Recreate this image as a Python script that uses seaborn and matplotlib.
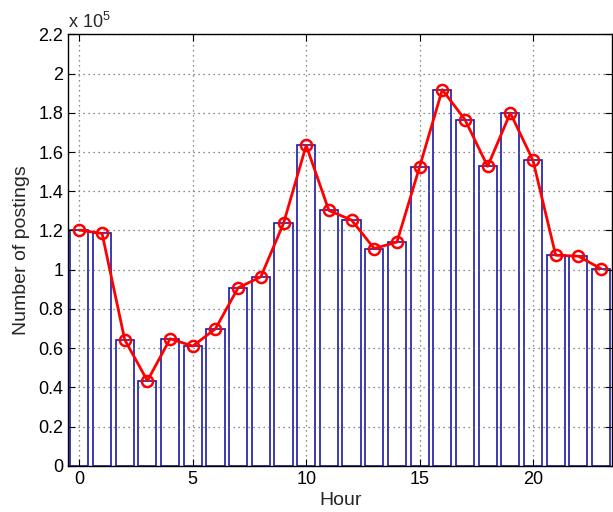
import numpy as np
import matplotlib
matplotlib.use('Agg')
import matplotlib.pyplot as plt
import seaborn as sns

# Hourly posting counts
hours = list(range(24))
postings = [120200, 118500, 64300, 43400, 64800, 61100, 69900, 90800,
            96400, 123600, 163400, 130200, 125300, 110800, 114100, 152400,
            191800, 176500, 152700, 179900, 155700, 107400, 106900, 100500]
y_ticks = [0, 20000, 40000, 60000, 80000, 100000, 120000, 140000,
           160000, 180000, 200000, 220000]
x_ticks = [0, 5, 10, 15, 20]

sns.set_style('white')
plt.rcParams['font.family'] = ['Liberation Sans', 'DejaVu Sans']
plt.rcParams['mathtext.default'] = 'regular'

fig = plt.figure(figsize=(6.13, 5.12), dpi=100)
ax = fig.add_axes([0.111, 0.090, 0.888, 0.843])

# Bars: white with blue outline
sns.barplot(x=hours, y=postings, color='white', edgecolor='#1a1aa6',
            linewidth=1.2, width=0.8, saturation=1, ax=ax, zorder=2)

# Red line with open circle markers
sns.lineplot(x=hours, y=postings, color='red', linewidth=2, marker='o',
             markersize=8, markerfacecolor='none', markeredgecolor='red',
             markeredgewidth=1.8, ax=ax, zorder=3)

ax.set_xlim(-0.5, 23.5)
ax.set_ylim(0, 220000)
ax.set_xticks(x_ticks)
ax.set_xticklabels([str(t) for t in x_ticks])
ax.set_yticks(y_ticks)
ax.set_yticklabels([f'{v / 1e5:g}' for v in y_ticks])

ax.grid(True, linestyle=(0, (1, 3)), color='#666666', linewidth=0.9)
ax.set_axisbelow(False)
for gl in ax.get_xgridlines() + ax.get_ygridlines():
    gl.set_zorder(2.5)

for s in ax.spines.values():
    s.set_color('black')
    s.set_linewidth(1.0)
    s.set_visible(True)
    s.set_zorder(4)

ax.tick_params(direction='in', length=5, width=0.8, labelsize=13,
               top=True, right=True, bottom=True, left=True, colors='black')

ax.set_xlabel('Hour', fontsize=14, labelpad=3)
ax.set_ylabel('Number of postings', fontsize=14, labelpad=6)
ax.text(0.0, 1.005, r'x 10$^{5}$', transform=ax.transAxes, ha='left',
        va='bottom', fontsize=13)

fig.savefig('out.png', dpi=100)
